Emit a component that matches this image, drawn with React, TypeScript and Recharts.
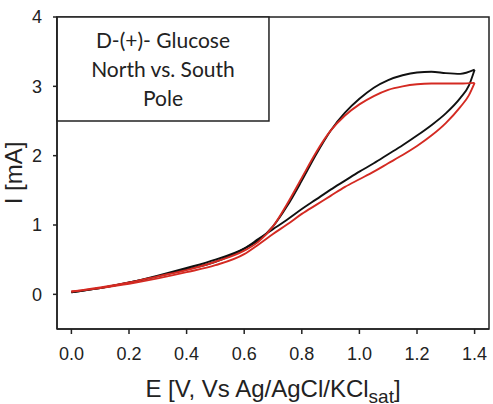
import React from 'react';
import { LineChart, Line, XAxis, YAxis, ReferenceArea, Label } from 'recharts';

// Potential grid (V vs Ag/AgCl/KCl sat) for the anodic sweep
const forwardE = [0, 0.1, 0.2, 0.3, 0.4, 0.5, 0.6, 0.65, 0.7, 0.75, 0.8, 0.85, 0.9, 0.95, 1.0, 1.05, 1.1, 1.15, 1.2, 1.25, 1.3, 1.35, 1.4];
// Potential grid for the cathodic (return) sweep, listed in ascending order
const reverseE = [0, 0.1, 0.2, 0.3, 0.4, 0.5, 0.6, 0.65, 0.7, 0.75, 0.8, 0.85, 0.9, 0.95, 1.0, 1.05, 1.1, 1.15, 1.2, 1.25, 1.3, 1.35, 1.38, 1.4];

// Current (mA), North pole electrode
const northForwardI = [0.03, 0.09, 0.17, 0.27, 0.38, 0.5, 0.66, 0.78, 0.98, 1.28, 1.64, 2.02, 2.36, 2.62, 2.82, 2.98, 3.09, 3.16, 3.2, 3.21, 3.19, 3.18, 3.24];
const northReverseI = [0.03, 0.09, 0.17, 0.26, 0.36, 0.47, 0.66, 0.8, 0.94, 1.08, 1.23, 1.37, 1.51, 1.64, 1.77, 1.89, 2.02, 2.15, 2.29, 2.44, 2.61, 2.83, 3.01, 3.24];

// Current (mA), South pole electrode
const southForwardI = [0.04, 0.1, 0.17, 0.26, 0.35, 0.47, 0.63, 0.76, 0.98, 1.31, 1.68, 2.05, 2.36, 2.58, 2.74, 2.86, 2.95, 3.0, 3.03, 3.04, 3.04, 3.04, 3.05];
const southReverseI = [0.04, 0.09, 0.15, 0.23, 0.32, 0.42, 0.58, 0.72, 0.87, 1.01, 1.16, 1.29, 1.42, 1.55, 1.66, 1.77, 1.89, 2.01, 2.14, 2.29, 2.47, 2.7, 2.87, 3.05];

const xTicks = [0, 0.2, 0.4, 0.6, 0.8, 1.0, 1.2, 1.4];
const yTicks = [0, 1, 2, 3, 4];
const xDomain = [-0.05, 1.45];
const yDomain = [-0.5, 4];
const boxLines = ['D-(+)- Glucose', 'North vs. South', 'Pole'];

const NORTH = '#111111';
const SOUTH = '#d42a22';
const INK = '#222222';
const AXIS_FONT = '"Liberation Sans", Arial, sans-serif';

const toPoints = (e: number[], i: number[]) => e.map((v, k) => ({ e: v, i: i[k] }));

const northForward = toPoints(forwardE, northForwardI);
const northReverse = toPoints(reverseE, northReverseI);
const southForward = toPoints(forwardE, southForwardI);
const southReverse = toPoints(reverseE, southReverseI);

const XAxisTitle = (props: any) => {
  const vb = props.viewBox || { x: 57, y: 329, width: 432, height: 75 };
  const cx = vb.x + vb.width / 2;
  return (
    <text x={cx} y={vb.y + 68} textAnchor="middle" fill={INK} fontFamily={AXIS_FONT} fontSize={24}>
      <tspan>E [V, Vs Ag/AgCl/KCl</tspan>
      <tspan fontSize={19} dy={6}>sat</tspan>
      <tspan dy={-6}>]</tspan>
    </text>
  );
};

const YAxisTitle = (props: any) => {
  const vb = props.viewBox || { x: 0, y: 17, width: 57, height: 312 };
  const cy = vb.y + vb.height / 2;
  const x = 21.5;
  return (
    <text x={x} y={cy} transform={`rotate(-90 ${x} ${cy})`} textAnchor="middle" fill={INK} fontFamily={AXIS_FONT} fontSize={24}>
      I [mA]
    </text>
  );
};

const BoxText = (props: any) => {
  const vb = props.viewBox || { x: 57, y: 17, width: 212, height: 104 };
  const cx = vb.x + vb.width / 2;
  return (
    <g>
      {boxLines.map((t, k) => (
        <text key={t} x={cx} y={vb.y + 31 + k * 29} textAnchor="middle" fill={INK} fontFamily="Lato, 'Open Sans', sans-serif" fontSize={21}>
          {t}
        </text>
      ))}
    </g>
  );
};

export default function App() {
  const lineProps = {
    xAxisId: 'e',
    yAxisId: 'i',
    dataKey: 'i',
    type: 'monotone' as const,
    dot: false,
    activeDot: false,
    strokeWidth: 1.9,
    isAnimationActive: false,
  };
  return (
    <div style={{ position: 'absolute', left: 0, top: 0, width: 493, height: 404, background: '#fff' }}>
      <LineChart width={493} height={404} margin={{ top: 17, right: 4, left: 0, bottom: 0 }}>
        <XAxis
          xAxisId="e"
          dataKey="e"
          type="number"
          domain={xDomain}
          ticks={xTicks}
          allowDataOverflow
          tickFormatter={(v: number) => v.toFixed(1)}
          height={75}
          tickSize={5}
          tickMargin={13}
          axisLine={{ stroke: INK, strokeWidth: 1.5 }}
          tickLine={{ stroke: INK, strokeWidth: 1.5 }}
          tick={{ fill: INK, fontSize: 18, fontFamily: AXIS_FONT }}
        >
          <Label content={XAxisTitle} />
        </XAxis>
        <YAxis
          yAxisId="i"
          type="number"
          domain={yDomain}
          ticks={yTicks}
          allowDataOverflow
          width={57}
          tickSize={4}
          tickMargin={11}
          axisLine={{ stroke: INK, strokeWidth: 1.5 }}
          tickLine={{ stroke: INK, strokeWidth: 1.5 }}
          tick={{ fill: INK, fontSize: 18, fontFamily: AXIS_FONT }}
        >
          <Label content={YAxisTitle} />
        </YAxis>
        <ReferenceArea
          xAxisId="e"
          yAxisId="i"
          x1={xDomain[0]}
          x2={xDomain[1]}
          y1={yDomain[0]}
          y2={yDomain[1]}
          fill="none"
          stroke={INK}
          strokeWidth={1.5}
          ifOverflow="visible"
        />
        <Line {...lineProps} data={northForward} stroke={NORTH} />
        <Line {...lineProps} data={northReverse} stroke={NORTH} />
        <Line {...lineProps} data={southForward} stroke={SOUTH} />
        <Line {...lineProps} data={southReverse} stroke={SOUTH} />
        <ReferenceArea
          xAxisId="e"
          yAxisId="i"
          x1={-0.05}
          x2={0.686}
          y1={2.5}
          y2={4}
          fill="#fff"
          fillOpacity={1}
          stroke={INK}
          strokeWidth={1.5}
          ifOverflow="visible"
          label={BoxText}
        />
      </LineChart>
    </div>
  );
}
